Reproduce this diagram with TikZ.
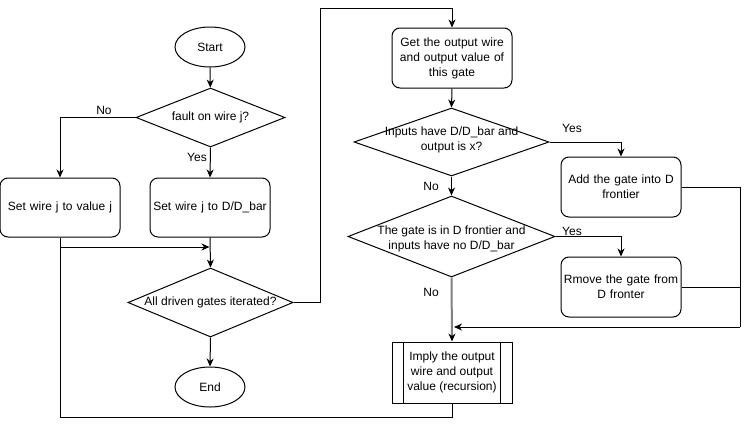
\documentclass[tikz,border=0pt]{standalone}
\usepackage{fontspec}
\setmainfont{Liberation Sans}
\usetikzlibrary{shapes.geometric,arrows.meta,calc}
\begin{document}
\begin{tikzpicture}[x=1pt,y=-1pt,
  line width=1pt,
  font=\fontsize{12pt}{15pt}\selectfont,
  arr/.style={-{Stealth[length=8pt,width=7pt,inset=2.5pt]}},
  term/.style={draw,ellipse,minimum width=70pt,minimum height=40pt,inner sep=0pt},
  proc/.style={draw,rounded corners=8pt,minimum width=120pt,minimum height=60pt,inner sep=0pt,align=center,text width=118pt},
  dec/.style={draw,diamond,inner sep=0pt},
  txt/.style={align=center,inner sep=0pt},
  lbl/.style={inner sep=0pt}]
\useasboundingbox (0,0) rectangle (749,426);
% left column
\node[term] (start) at (210,47) {Start};
\node[dec,minimum width=149pt,minimum height=59pt] (d1) at (210.5,117.5) {};
\node[txt] (d1t) at (d1) {fault on wire j?};
\node[proc,minimum height=59pt] (b1) at (60,207.5) {Set wire j to value j};
\node[proc,minimum height=59pt] (b2) at (210,207.5) {Set wire j to D/D\_bar};
\node[dec,minimum width=165pt,minimum height=69pt] (d2) at (210.5,302.5) {};
\node[txt] (d2t) at (d2) {All driven gates iterated?};
\node[term] (end) at (210,387) {End};
% right column
\node[proc] (g1) at (452,58) {Get the output wire\\and output value of\\this gate};
\node[dec,minimum width=195pt,minimum height=68pt] (d3) at (451.5,142) {};
\node[txt] (d3t) at ($(d3)+(0,-2)$) {Inputs have D/D\_bar and\\output is x?};
\node[proc] (a1) at (621,187) {Add the gate into D\\frontier};
\node[dec,minimum width=207pt,minimum height=81pt] (d4) at (451.5,236.5) {};
\node[txt] (d4t) at ($(d4)+(0,2)$) {The gate is in D frontier and\\inputs have no D/D\_bar};
\node[proc] (r1) at (621,287) {Rmove the gate from\\D fronter};
\node[draw,minimum width=120pt,minimum height=61pt,inner sep=0pt] (im) at (452,372.5) {};
\node[txt] (imt) at (im) {Imply the output\\wire and output\\value (recursion)};
\draw (im.north west) ++(12,0) coordinate (iml1) -- ++(0,61);
\draw (im.north east) ++(-12,0) coordinate (iml2) -- ++(0,61);
% coordinates
\coordinate (c1) at (320,8);
\coordinate (c2) at (60,247);
\coordinate (c3) at (60,417);
\coordinate (c4) at (740,327);
% connectors
\draw[arr] (start) -- (d1);
\draw[arr] (d1.west) -| (b1.north);
\node[lbl] (lno1) at (104,110) {No};
\draw[arr] (d1.south) -- (b2.north);
\node[lbl] (lyes1) at (197,157) {Yes};
\draw[arr] (b2.south) -- (d2.north);
\draw (b1.south) -- (c2);
\draw[arr] (c2) -- ($(b2.south |- c2)+(-0.5,0)$);
\draw[arr] (d2.south) -- (end.north);
\draw[arr] (d2.east) -| (c1) -| (g1.north);
\draw[arr] (g1.south) -- (d3.north);
\draw[arr] (d3.east) -| (a1.north);
\node[lbl] (lyes2) at (572,128) {Yes};
\draw[arr] (d3.south) -- (d4.north);
\node[lbl] (lno2) at (431,186) {No};
\draw[arr] (d4.east) -| (r1.north);
\node[lbl] (lyes3) at (572,231) {Yes};
\draw[draw=gray,line width=2pt,-{Stealth[length=8pt,width=7pt,inset=2.5pt,color=black,fill=black,line width=1pt]}] (d4.south) -- (im.north);
\node[lbl] (lno3) at (431,292) {No};
\draw (a1.east) -| (c4);
\draw (r1.east) -- (r1.east -| c4);
\draw[arr] (c4) -- ($(im.north |- c4)+(2,0)$);
\draw (im.south) |- (c3) -- (c2);
\end{tikzpicture}
\end{document}
